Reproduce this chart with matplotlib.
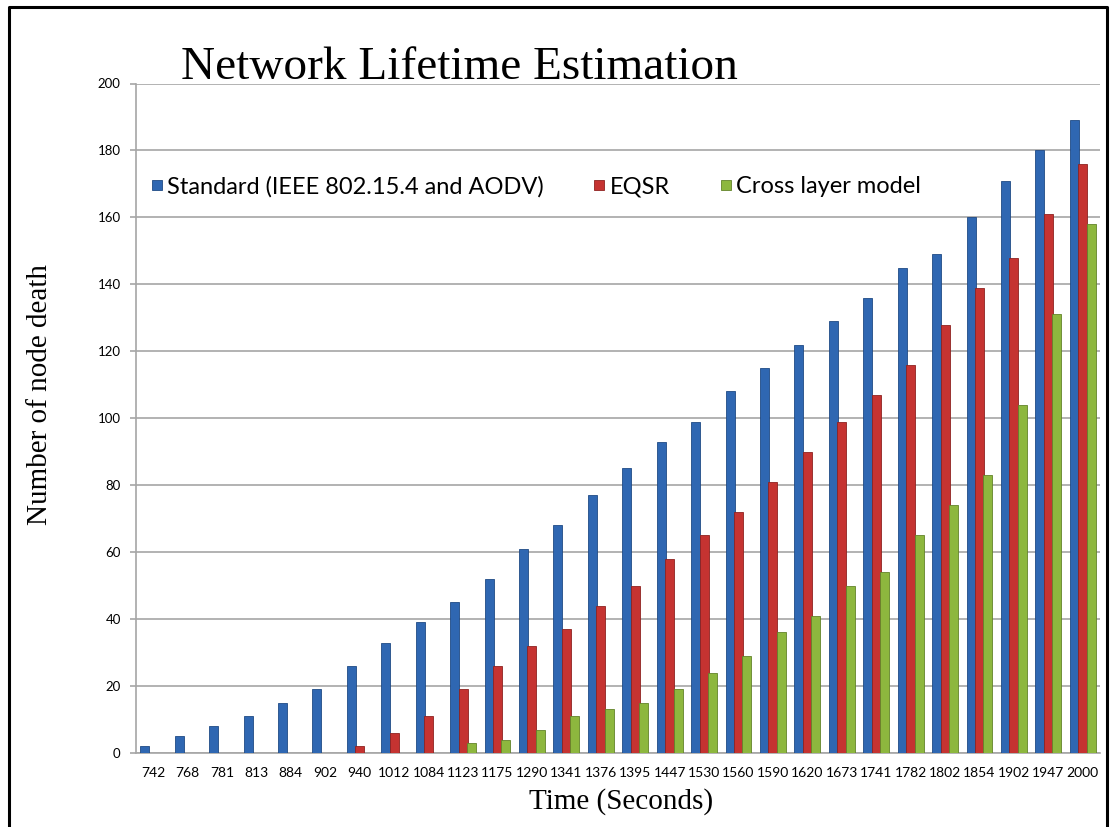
import matplotlib
matplotlib.use("Agg")
import matplotlib.pyplot as plt
import numpy as np
from matplotlib.lines import Line2D

# ---- data ----
times = ["742", "768", "781", "813", "884", "902", "940", "1012", "1084", "1123",
         "1175", "1290", "1341", "1376", "1395", "1447", "1530", "1560", "1590",
         "1620", "1673", "1741", "1782", "1802", "1854", "1902", "1947", "2000"]
standard = [2, 5, 8, 11, 15, 19, 26, 33, 39, 45, 52, 61, 68, 77, 85, 93, 99, 108,
            115, 122, 129, 136, 145, 149, 160, 171, 180, 189]
eqsr = [0, 0, 0, 0, 0, 0, 2, 6, 11, 19, 26, 32, 37, 44, 50, 58, 65, 72, 81, 90,
        99, 107, 116, 128, 139, 148, 161, 176]
cross_layer = [0, 0, 0, 0, 0, 0, 0, 0, 0, 3, 4, 7, 11, 13, 15, 19, 24, 29, 36, 41,
               50, 54, 65, 74, 83, 104, 131, 158]

series_names = ["Standard (IEEE 802.15.4 and AODV)", "EQSR", "Cross layer model"]
colors = ["#2F67B2", "#C53331", "#8DB73E"]
edges = ["#1F4A85", "#8E2220", "#62832A"]

GRID = "#A6A6A6"
SANS = ["Lato", "DejaVu Sans"]
SERIF = ["Liberation Serif", "DejaVu Serif"]

fig = plt.figure(figsize=(11.12, 8.27), dpi=100)
ax = fig.add_axes([136 / 1112, 1 - 753 / 827, (1100 - 136) / 1112, (753 - 83.5) / 827])

x = np.arange(len(times))
w = 0.26
step = 0.245
for k, vals in enumerate([standard, eqsr, cross_layer]):
    ax.bar(x + (k - 1) * step, vals, width=w, color=colors[k], edgecolor=edges[k],
           linewidth=0.6, zorder=3)

ax.set_xlim(-0.5, len(times) - 0.5)
ax.set_ylim(0, 200)
ax.set_yticks(np.arange(0, 201, 20))
ax.set_xticks(x)
ax.set_xticklabels(times)
ax.yaxis.grid(True, color=GRID, linewidth=1.2, zorder=0)
ax.set_axisbelow(True)
for s in ["top", "right"]:
    ax.spines[s].set_visible(False)
for s in ["left", "bottom"]:
    ax.spines[s].set_color(GRID)
    ax.spines[s].set_linewidth(1.2)
ax.tick_params(axis="y", length=4, color=GRID, width=1.2, pad=7, labelsize=9.5)
ax.tick_params(axis="x", length=0, pad=10, labelsize=10)
for lab in ax.get_xticklabels() + ax.get_yticklabels():
    lab.set_family(SANS)

# square legend keys, vertically centred on the text like Excel's
handles = [Line2D([], [], marker="s", linestyle="none", markersize=6.8,
                  markerfacecolor=c, markeredgecolor=e, markeredgewidth=0.6)
           for c, e in zip(colors, edges)]
ax.legend(handles, series_names, loc="center left", bbox_to_anchor=(0.003, 0.846),
          ncol=3, frameon=False, borderpad=0, handlelength=0.5,
          handletextpad=0.2, columnspacing=2.1,
          prop={"family": SANS, "size": 17})

fig.text(181 / 1112, 1 - 79 / 827, "Network Lifetime Estimation", family=SERIF,
         fontsize=34, ha="left", va="baseline")
fig.text(40 / 1112, 1 - 395 / 827, "Number of node death", family=SERIF,
         fontsize=21, rotation=90, ha="center", va="center")
fig.text(621 / 1112, 1 - 802 / 827, "Time (Seconds)", family=SERIF,
         fontsize=21, ha="center", va="center")

# outer frame (open at the bottom, as in the source screenshot)
frame_x = [8.5 / 1112, 8.5 / 1112, 1107 / 1112, 1107 / 1112]
frame_y = [-0.05, 1 - 6.5 / 827, 1 - 6.5 / 827, -0.05]
fig.add_artist(Line2D(frame_x, frame_y, color="black", linewidth=2.2,
                      transform=fig.transFigure))

fig.savefig("out.png", dpi=100)
